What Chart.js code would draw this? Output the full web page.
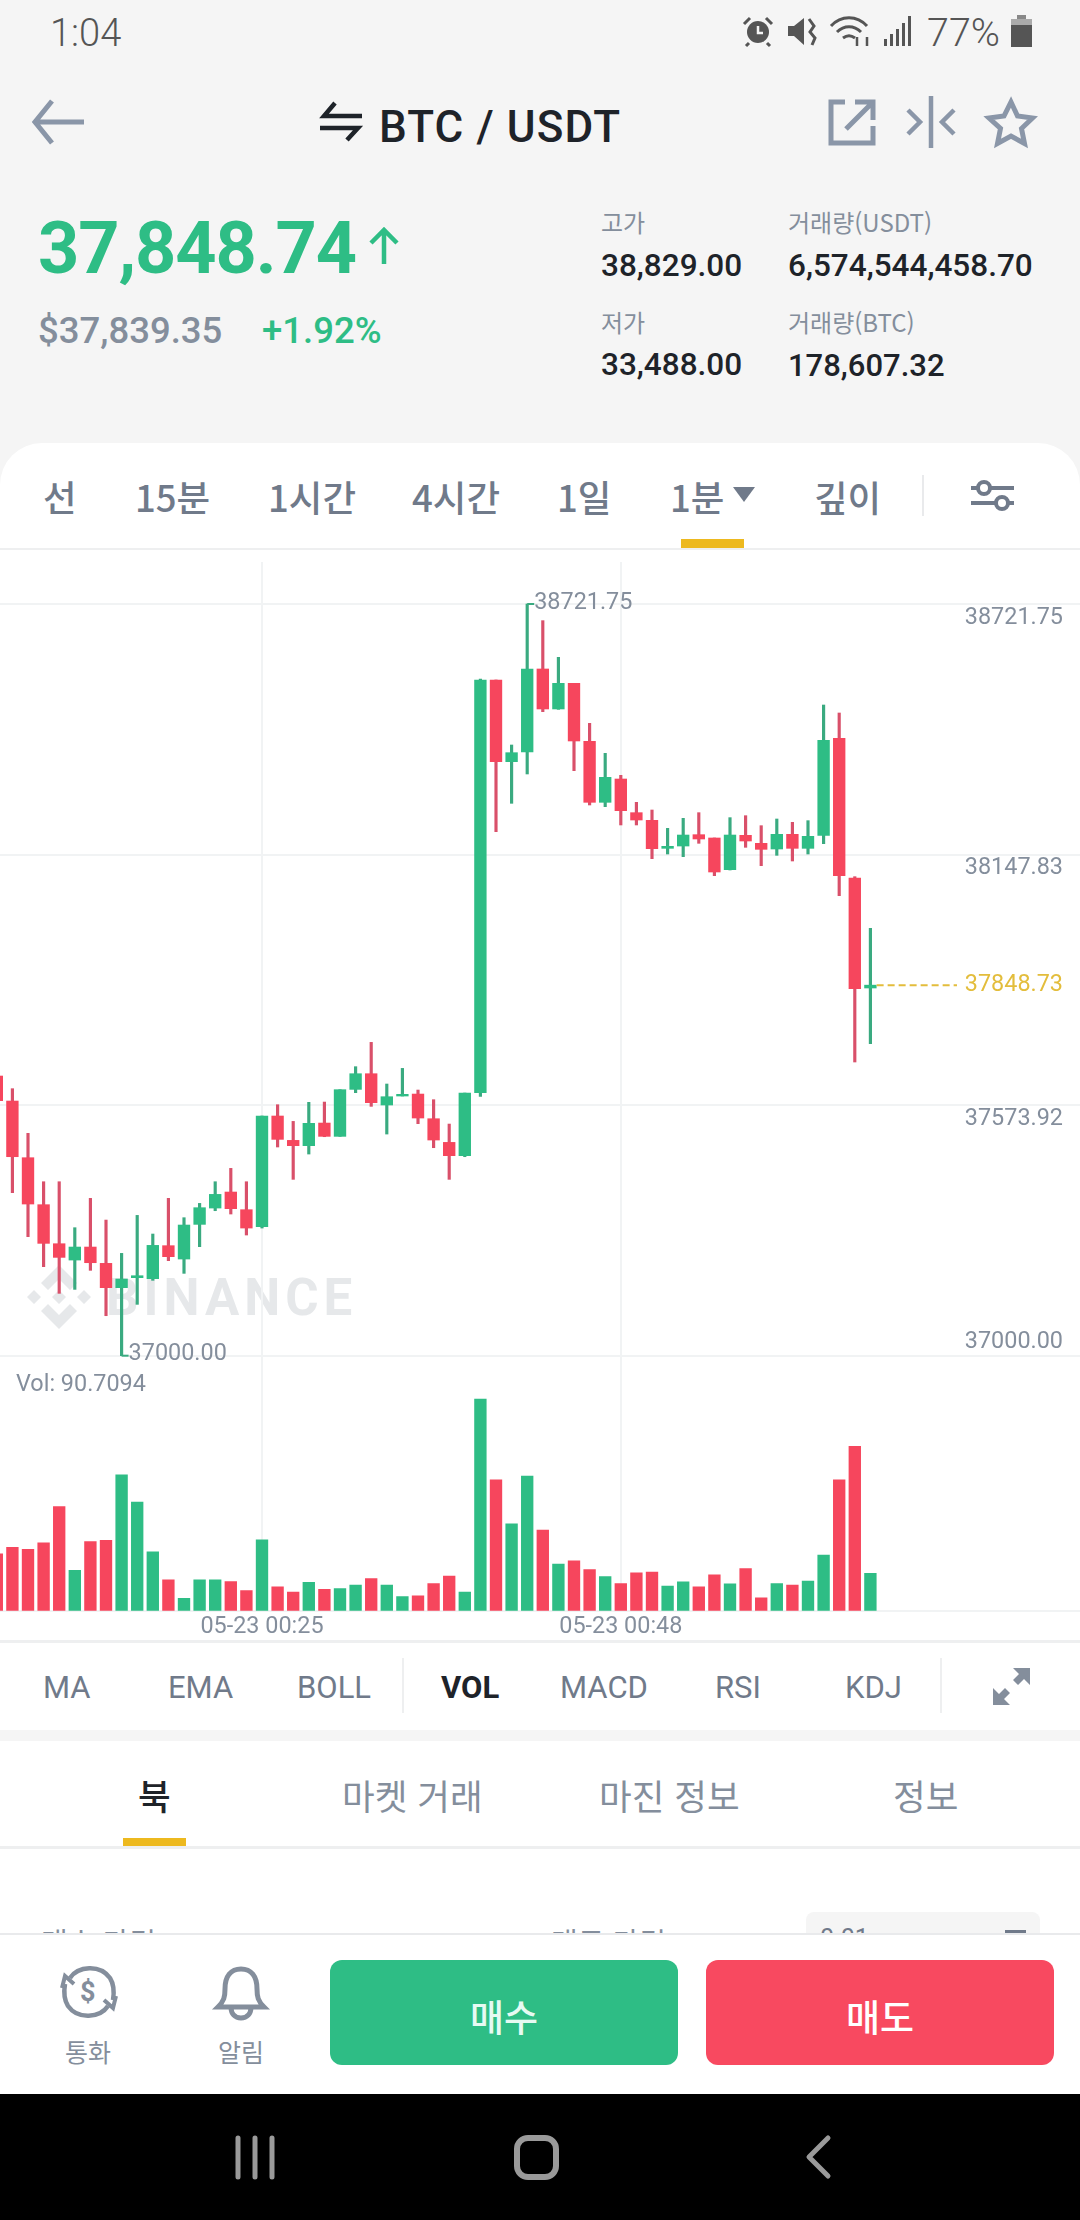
<!DOCTYPE html>
<html lang="ko">
<head>
<meta charset="utf-8">
<title>BTC / USDT</title>
<script src="https://cdn.jsdelivr.net/npm/chart.js@4"></script>
<style>
html, body { margin: 0; padding: 0; width: 1080px; height: 2220px; overflow: hidden; background: #f5f5f5; }
body { position: relative; font-family: Roboto, "Noto Sans CJK KR", sans-serif; color: #1e2329; }
.box { position: absolute; }
.t { position: absolute; white-space: nowrap; line-height: 1; transform: translateY(-50%); }
.ko { font-family: "Noto Sans CJK KR", Roboto, sans-serif; }
.grey { color: #848e9c; }
.tab { color: #707a8a; font-size: 36.5px; font-weight: 500; }
.ind { color: #707a8a; font-size: 31px; }
svg { position: absolute; overflow: visible; }
canvas { position: absolute; left: 0; }
</style>
</head>
<body>

<!-- status bar -->
<span class="t" style="left:50px;top:33px;font-size:38px;font-weight:300;color:#555">1:04</span>
<svg style="left:742px;top:16px" width="32" height="31" viewBox="0 0 32 31"><circle cx="16" cy="16" r="11" fill="#555"/><path d="M16 10v7h5" stroke="#f5f5f5" stroke-width="2.5" fill="none"/><path d="M2 8l6-6M30 8l-6-6M7 27l-3 3M25 27l3 3" stroke="#555" stroke-width="3"/></svg>
<svg style="left:788px;top:16px" width="31" height="31" viewBox="0 0 31 31"><path d="M0 10h6l10-8v27L6 20H0z" fill="#555"/><path d="M21 3l5 7-4 6 5 6-3 7" stroke="#555" stroke-width="3" fill="none"/></svg>
<svg style="left:830px;top:15px" width="41" height="32" viewBox="0 0 41 32" fill="none" stroke="#555" stroke-width="3"><path d="M1 11c10-11 26-11 36 0M7 17c7-7 17-7 24 0M13 23c4-3 8-3 12 0"/><path d="M27 22v9M37 31v-9" stroke-width="2.5"/></svg>
<svg style="left:884px;top:16px" width="27" height="30" viewBox="0 0 27 30" fill="#555"><rect x="0" y="23" width="3" height="7"/><rect x="6" y="18" width="3" height="12"/><rect x="12" y="13" width="3" height="17"/><rect x="18" y="7" width="3" height="23"/><rect x="24" y="0" width="3" height="30"/></svg>
<span class="t" style="left:927px;top:33px;font-size:39.5px;font-weight:300;color:#555">77%</span>
<svg style="left:1011px;top:15px" width="21" height="32" viewBox="0 0 21 32"><rect x="6" y="0" width="9" height="5" fill="#888"/><rect x="0" y="4" width="21" height="8" fill="#aaa"/><rect x="0" y="10" width="21" height="22" fill="#555"/></svg>

<!-- header -->
<svg style="left:32px;top:99px" width="52" height="46" viewBox="0 0 52 46" fill="none" stroke="#8a96a8" stroke-width="5"><path d="M52 23H3M20 2L3 23l17 21"/></svg>
<svg style="left:320px;top:102px" width="42" height="39" viewBox="0 0 42 39" fill="none" stroke="#1e2329" stroke-width="4.5"><path d="M42 14H4L15 1M0 26h38L27 38"/></svg>
<span class="t" style="left:379px;top:127px;font-size:44px;font-weight:500;letter-spacing:1.1px">BTC / USDT</span>
<svg style="left:828px;top:99px" width="48" height="47" viewBox="0 0 48 47" fill="none" stroke="#8a96a8" stroke-width="5"><path d="M17 3H3v41h42V27M18 30L44 4M27 3h18v18"/></svg>
<svg style="left:906px;top:96px" width="50" height="52" viewBox="0 0 50 52" fill="none" stroke="#8a96a8" stroke-width="4.5"><path d="M25 0v52M2 14l12 12L2 38M48 14L36 26l12 12"/></svg>
<svg style="left:986px;top:98px" width="50" height="48" viewBox="0 0 50 48" fill="none" stroke="#8a96a8" stroke-width="5"><path d="M25 4l6.500 14 15 2-11 10.500 3 15L25 38l-13.500 7.500 3-15L3 20l15-2z"/></svg>

<span class="t" style="left:38px;top:249px;font-size:72px;font-weight:700;letter-spacing:-1.1px;color:#2ebd85">37,848.74</span>
<svg style="left:368px;top:227px" width="32" height="37" viewBox="0 0 32 37" fill="none" stroke="#2ebd85" stroke-width="4.500"><path d="M16 37V3M3 16L16 3l13 13"/></svg>
<span class="t grey" style="left:38px;top:331px;font-size:36.500px;font-weight:500">$37,839.35</span>
<span class="t" style="left:262px;top:331px;font-size:36.5px;font-weight:500;color:#2ebd85">+1.92%</span>

<span class="t grey ko" style="left:601px;top:222px;font-size:24px">고가</span>
<span class="t" style="left:601px;top:266px;font-size:31.5px;font-weight:500">38,829.00</span>
<span class="t grey ko" style="left:788px;top:222px;font-size:24px">거래량(USDT)</span>
<span class="t" style="left:788px;top:266px;font-size:31.5px;font-weight:500">6,574,544,458.70</span>
<span class="t grey ko" style="left:601px;top:322px;font-size:24px">저가</span>
<span class="t" style="left:601px;top:365px;font-size:31.5px;font-weight:500">33,488.00</span>
<span class="t grey ko" style="left:788px;top:322px;font-size:24px">거래량(BTC)</span>
<span class="t" style="left:788px;top:365px;font-size:31px;font-weight:500">178,607.32</span>

<!-- white panel -->
<div class="box" style="left:0;top:443px;width:1080px;height:1300px;background:#fff;border-radius:42px 42px 0 0"></div>

<span class="t tab ko" style="left:43px;top:497px">선</span>
<span class="t tab ko" style="left:135px;top:497px">15분</span>
<span class="t tab ko" style="left:268px;top:497px">1시간</span>
<span class="t tab ko" style="left:412px;top:497px">4시간</span>
<span class="t tab ko" style="left:557px;top:497px">1일</span>
<span class="t tab ko" style="left:670px;top:497px">1분</span>
<svg style="left:733px;top:487px" width="22" height="15" viewBox="0 0 22 15"><path d="M0 0h22L11 15z" fill="#707a8a"/></svg>
<span class="t tab ko" style="left:814px;top:497px">깊이</span>
<div class="box" style="left:922px;top:475px;width:2px;height:41px;background:#e9eaec"></div>
<svg style="left:971px;top:480px" width="43" height="31" viewBox="0 0 43 31" fill="none" stroke="#707a8a" stroke-width="4"><path d="M0 8h43M0 23h43"/><circle cx="13" cy="8" r="6" fill="#fff"/><circle cx="31" cy="23" r="6" fill="#fff"/></svg>
<div class="box" style="left:681px;top:539px;width:63px;height:9px;background:#edb91f"></div>
<div class="box" style="left:0;top:548px;width:1080px;height:2px;background:#eeeff0"></div>

<!-- watermark sits under the transparent canvas -->
<svg style="left:27px;top:1265px" width="64" height="64" viewBox="0 0 64 64" fill="#e6e8ea"><path d="M32 25l7 7-7 7-7-7zM7 25l7 7-7 7-7-7zM57 25l7 7-7 7-7-7zM32 0l18 18-7 7-11-11-11 11-7-7zM32 64l18-18-7-7-11 11-11-11-7 7z"/></svg>
<span class="t" style="left:106px;top:1297px;font-size:51px;font-weight:700;letter-spacing:5px;color:#e6e8ea">BINANCE</span>

<canvas id="priceChart" width="1080" height="800" style="top:562px"></canvas>
<canvas id="volChart" width="1080" height="278" style="top:1362px"></canvas>
<span class="t grey" id="volLabel" style="left:16px;top:1384px;font-size:23.4px"></span>

<div class="box" style="left:0;top:1640px;width:1080px;height:3px;background:#eeeff0"></div>

<!-- indicator row -->
<span class="t ind" style="left:43px;top:1687px">MA</span>
<span class="t ind" style="left:168px;top:1687px">EMA</span>
<span class="t ind" style="left:297px;top:1687px">BOLL</span>
<div class="box" style="left:402px;top:1658px;width:2px;height:55px;background:#eeeff0"></div>
<span class="t ind" style="left:441px;top:1687px;color:#1e2329;font-weight:700">VOL</span>
<span class="t ind" style="left:560px;top:1687px">MACD</span>
<span class="t ind" style="left:715px;top:1687px">RSI</span>
<span class="t ind" style="left:845px;top:1687px">KDJ</span>
<div class="box" style="left:940px;top:1658px;width:2px;height:55px;background:#eeeff0"></div>
<svg style="left:993px;top:1668px" width="37" height="37" viewBox="0 0 37 37" fill="#848e9c"><path d="M37 0v17l-6-6-6 6-5-5 6-6-6-6zM0 37V20l6 6 6-6 5 5-6 6 6 6z"/></svg>
<div class="box" style="left:0;top:1730px;width:1080px;height:11px;background:#f5f5f5"></div>

<!-- order book tabs -->
<div class="box" style="left:0;top:1741px;width:1080px;height:200px;background:#fff"></div>
<span class="t ko" style="left:138px;top:1795px;font-size:35.5px;font-weight:500">북</span>
<span class="t ko grey" style="left:342px;top:1795px;font-size:35.5px">마켓 거래</span>
<span class="t ko grey" style="left:599px;top:1795px;font-size:35.5px">마진 정보</span>
<span class="t ko grey" style="left:893px;top:1795px;font-size:35.5px">정보</span>
<div class="box" style="left:123px;top:1838px;width:63px;height:8px;background:#edb91f"></div>
<div class="box" style="left:0;top:1846px;width:1080px;height:3px;background:#eeeff0"></div>
<span class="t ko grey" style="left:41px;top:1941px;font-size:29px">매수 가격</span>
<span class="t ko grey" style="left:551px;top:1941px;font-size:29px">매도 가격</span>
<div class="box" style="left:806px;top:1912px;width:234px;height:40px;background:#f5f5f5;border-radius:8px"></div>
<span class="t" style="left:820px;top:1938px;font-size:25px;color:#707a8a">0.01</span>
<div class="box" style="left:1005px;top:1930px;width:21px;height:12px;background:#707a8a"></div>

<!-- bottom bar -->
<div class="box" style="left:0;top:1933px;width:1080px;height:161px;background:#fff;border-top:2px solid #e9eaec;box-sizing:border-box"></div>
<svg style="left:62px;top:1966px" width="54" height="52" viewBox="0 0 54 52" fill="none" stroke="#848e9c" stroke-width="4.500"><path d="M8 12C16 0 38-2 48 12c5 8 4 16 3 22M46 40C38 52 16 54 6 40 1 32 2 24 3 18"/><path d="M0 22l3-12 9 8M54 30l-3 12-9-8" stroke-width="4"/></svg>
<span class="t" style="left:80px;top:1992px;font-size:27px;font-weight:700;color:#848e9c">$</span>
<span class="t ko grey" style="left:65px;top:2051px;font-size:25px">통화</span>
<svg style="left:215px;top:1966px" width="52" height="54" viewBox="0 0 52 54" fill="none" stroke="#848e9c" stroke-width="5"><path d="M3 41c6-6 7-10 7-18C10 10 16 3 26 3s16 7 16 20c0 8 1 12 7 18zM16 41c0 7 4 11 10 11s10-4 10-11"/></svg>
<span class="t ko grey" style="left:218px;top:2051px;font-size:25px">알림</span>
<div class="box" style="left:330px;top:1960px;width:348px;height:105px;background:#2ebd85;border-radius:12px"></div>
<span class="t ko" style="left:470px;top:2016px;font-size:37px;font-weight:500;color:#e6faf2">매수</span>
<div class="box" style="left:706px;top:1960px;width:348px;height:105px;background:#f84960;border-radius:12px"></div>
<span class="t ko" style="left:846px;top:2016px;font-size:37px;font-weight:500;color:#fff">매도</span>

<!-- nav bar -->
<div class="box" style="left:0;top:2094px;width:1080px;height:126px;background:#000"></div>
<svg style="left:235px;top:2136px" width="40" height="43" viewBox="0 0 40 43" stroke="#9a9a9a" stroke-width="5" stroke-linecap="round"><path d="M3 2v39M20 2v39M37 2v39"/></svg>
<div class="box" style="left:514px;top:2135px;width:45px;height:45px;border:6px solid #9a9a9a;border-radius:14px;box-sizing:border-box"></div>
<svg style="left:806px;top:2136px" width="24" height="42" viewBox="0 0 24 42" fill="none" stroke="#9a9a9a" stroke-width="5" stroke-linecap="round"><path d="M22 2L3 21l19 19" stroke-linejoin="round"/></svg>

<script>
// candles, one minute each
const opens = [37640.6, 37583.3, 37453.5, 37345.9, 37256.5, 37219.1, 37248.9, 37211.5, 37155.8, 37178.7,
    37176.4, 37252.0, 37221.4, 37300.8, 37338.2, 37374.9, 37334.4, 37295.5, 37549.0, 37493.2,
    37481.0, 37532.9, 37502.4, 37610.0, 37645.9, 37574.2, 37594.8, 37599.3, 37542.8, 37488.6,
    37458.1, 37602.4, 38547.7, 38360.6, 38382.8, 38572.9, 38481.3, 38540.0, 38407.2, 38267.5,
    38320.9, 38243.8, 38226.2, 38162.1, 38167.4, 38193.4, 38185.8, 38113.2, 38191.9, 38173.6,
    38160.6, 38194.2, 38162.1, 38191.9, 38414.1, 38094.2, 37842.2];
const highs = [37640.6, 37611.6, 37509.3, 37398.5, 37398.5, 37293.2, 37360.4, 37310.7, 37234.4, 37321.4,
    37278.7, 37360.4, 37316.1, 37348.9, 37398.5, 37429.1, 37398.5, 37549.0, 37574.9, 37536.7,
    37580.3, 37581.0, 37609.3, 37662.0, 37717.7, 37622.3, 37658.1, 37608.5, 37586.4, 37530.6,
    37601.6, 38550.0, 38547.7, 38398.8, 38721.75, 38683.6, 38599.6, 38540.0, 38448.4, 38379.7,
    38329.3, 38267.5, 38249.9, 38207.9, 38230.8, 38243.8, 38185.8, 38232.4, 38236.9, 38214.0,
    38229.3, 38221.7, 38225.5, 38490.4, 38472.1, 38097.2, 37978.9];
const lows = [37584.1, 37373.4, 37272.6, 37203.9, 37142.8, 37151.9, 37195.5, 37091.6, 37000.0, 37117.6,
    37172.6, 37217.6, 37188.6, 37249.7, 37332.1, 37324.5, 37276.4, 37292.4, 37478.0, 37403.9,
    37461.9, 37501.6, 37502.4, 37602.4, 37571.1, 37507.7, 37594.8, 37531.4, 37476.4, 37403.9,
    37455.8, 37594.0, 38200.3, 38265.2, 38332.4, 38475.1, 38480.5, 38340.0, 38261.4, 38257.6,
    38215.6, 38215.6, 38138.4, 38149.1, 38143.0, 38173.6, 38099.5, 38112.5, 38164.4, 38122.4,
    38146.1, 38133.1, 38149.1, 38172.8, 38053.7, 37672.7, 37714.7];
const closes = [37584.1, 37455.8, 37347.4, 37257.3, 37225.2, 37248.9, 37213.0, 37155.8, 37175.6, 37183.2,
    37252.7, 37226.8, 37299.3, 37339.0, 37369.5, 37336.7, 37292.4, 37549.0, 37495.5, 37481.0,
    37532.2, 37502.4, 37609.3, 37645.9, 37579.5, 37593.2, 37598.6, 37544.4, 37494.0, 37458.1,
    37601.6, 38547.7, 38360.6, 38381.2, 38572.9, 38481.3, 38540.0, 38408.0, 38267.5, 38324.7,
    38248.4, 38227.0, 38161.3, 38166.7, 38192.6, 38183.5, 38107.9, 38192.6, 38178.9, 38159.8,
    38194.2, 38162.1, 38189.6, 38409.5, 38099.5, 37840.7, 37848.73];
const volumes = [138, 154, 149, 165, 253, 98, 168, 171, 330, 264,
    143, 75, 30, 75, 75, 71, 49, 172, 58, 45,
    69, 52, 54, 62, 78, 62, 34, 36, 66, 84,
    45, 514, 318, 211, 327, 196, 113, 121, 100, 83,
    66, 92, 94, 60, 70, 58, 87, 65, 102, 31,
    66, 62, 72, 135, 318, 399, 90.7094];

const priceTicks = [38721.75, 38147.83, 37848.73, 37573.92, 37000.00];
const timeTickIndexes = [17, 40];
const timeTickLabels = ['05-23 00:25', '05-23 00:48'];
const currentPriceLineX = [56.4, 61.55];

// visible window of the kline view
const xMin = 0.205, xMax = 69.436;
const priceMin = 36985.57, priceMax = 38817.95;
const volMax = 604;

const GREEN = '#2ebd85', RED = '#f6465d';
const GREEN_WICK = '#3aaa80', RED_WICK = '#d9506a';
const GRID = '#f1f3f4', TEXT = '#848e9c', YELLOW = '#e3bd3c';
const FONT = 'Roboto';
const AXIS_FONT_SIZE = 23.4;

const last = closes.length - 1;
const currentPrice = closes[last];
const isUp = i => closes[i] >= opens[i];

document.getElementById('volLabel').textContent = 'Vol: ' + volumes[last];

// axes take no room, the plot has to fill the canvas edge to edge
function noAxisRoom(scale) {
    if (scale.isHorizontal()) scale.height = 0; else scale.width = 0;
    scale.paddingTop = scale.paddingBottom = scale.paddingLeft = scale.paddingRight = 0;
}

// little hooks with the high and low of the visible range
const extremesPlugin = {
    id: 'extremes',
    afterDatasetsDraw(chart) {
        const { ctx, scales } = chart;
        const hi = Math.max(...highs), lo = Math.min(...lows);
        const marks = [[highs.indexOf(hi), hi, -1], [lows.indexOf(lo), lo, -2]];
        ctx.save();
        ctx.font = AXIS_FONT_SIZE + 'px ' + FONT;
        ctx.textBaseline = 'middle';
        marks.forEach(([i, price, dy]) => {
            const x = scales.x.getPixelForValue(i);
            const y = scales.y.getPixelForValue(price);
            ctx.strokeStyle = isUp(i) ? GREEN_WICK : RED_WICK;
            ctx.lineWidth = 2;
            ctx.beginPath();
            ctx.moveTo(x, y);
            ctx.lineTo(x + 7, y);
            ctx.stroke();
            ctx.fillStyle = TEXT;
            ctx.fillText(price.toFixed(2), x + 7, y + dy);
        });
        ctx.restore();
    }
};

const priceChart = new Chart(document.getElementById('priceChart'), {
    type: 'bar',
    data: {
        datasets: [{
            label: 'high-low',
            data: highs.map((h, i) => ({ x: i, y: [lows[i], h] })),
            backgroundColor: highs.map((h, i) => isUp(i) ? GREEN_WICK : RED_WICK),
            barThickness: 2.5,
            grouped: false,
            order: 3
        }, {
            label: 'open-close',
            data: opens.map((o, i) => ({ x: i, y: [o, closes[i]] })),
            backgroundColor: opens.map((o, i) => isUp(i) ? GREEN : RED),
            barThickness: 11.7,
            grouped: false,
            order: 2
        }, {
            type: 'line',
            label: 'current',
            data: currentPriceLineX.map(x => ({ x: x, y: currentPrice })),
            borderColor: YELLOW,
            borderWidth: 2,
            borderDash: [7, 4],
            pointRadius: 0,
            order: 1
        }]
    },
    options: {
        responsive: false,
        animation: false,
        layout: { padding: 0, autoPadding: false },
        plugins: { legend: { display: false }, tooltip: { enabled: false } },
        scales: {
            x: {
                type: 'linear',
                min: xMin,
                max: xMax,
                offset: false,
                grid: { color: GRID, lineWidth: 2, drawTicks: false, offset: false },
                border: { display: false },
                ticks: { display: false },
                afterBuildTicks(scale) { scale.ticks = timeTickIndexes.map(v => ({ value: v })); },
                afterFit: noAxisRoom
            },
            y: {
                position: 'right',
                min: priceMin,
                max: priceMax,
                grid: {
                    color: ctx => ctx.tick && ctx.tick.value === currentPrice ? 'transparent' : GRID,
                    lineWidth: 2,
                    drawTicks: false
                },
                border: { display: false },
                afterBuildTicks(scale) { scale.ticks = priceTicks.map(v => ({ value: v })); },
                afterFit: noAxisRoom,
                ticks: {
                    mirror: true,
                    padding: -17,
                    autoSkip: false,
                    font: { family: FONT, size: AXIS_FONT_SIZE },
                    color: ctx => ctx.tick && ctx.tick.value === currentPrice ? YELLOW : TEXT,
                    // blank line pushes the label off its grid line, like the app does
                    callback(value) {
                        const label = Number(value).toFixed(2);
                        if (value === currentPrice) return label;
                        return value === Math.min(...priceTicks) ? [label, ''] : ['', label];
                    }
                }
            }
        }
    },
    plugins: [extremesPlugin]
});

const volChart = new Chart(document.getElementById('volChart'), {
    type: 'bar',
    data: {
        datasets: [{
            label: 'Vol',
            data: volumes.map((v, i) => ({ x: i, y: v })),
            backgroundColor: volumes.map((v, i) => isUp(i) ? GREEN : RED),
            barThickness: 11.7
        }]
    },
    options: {
        responsive: false,
        animation: false,
        layout: { padding: 0 },
        plugins: { legend: { display: false }, tooltip: { enabled: false } },
        scales: {
            x: {
                type: 'linear',
                min: xMin,
                max: xMax,
                offset: false,
                grid: { color: GRID, lineWidth: 2, drawTicks: false, offset: false },
                border: { display: true, color: GRID, width: 2 },
                afterBuildTicks(scale) { scale.ticks = timeTickIndexes.map(v => ({ value: v })); },
                afterFit(scale) { scale.height = 29.3; },
                ticks: {
                    autoSkip: false,
                    maxRotation: 0,
                    padding: 2,
                    font: { family: FONT, size: AXIS_FONT_SIZE },
                    color: TEXT,
                    callback: (value, index) => timeTickLabels[index]
                }
            },
            y: { display: false, min: 0, max: volMax }
        }
    }
});
</script>
</body>
</html>
